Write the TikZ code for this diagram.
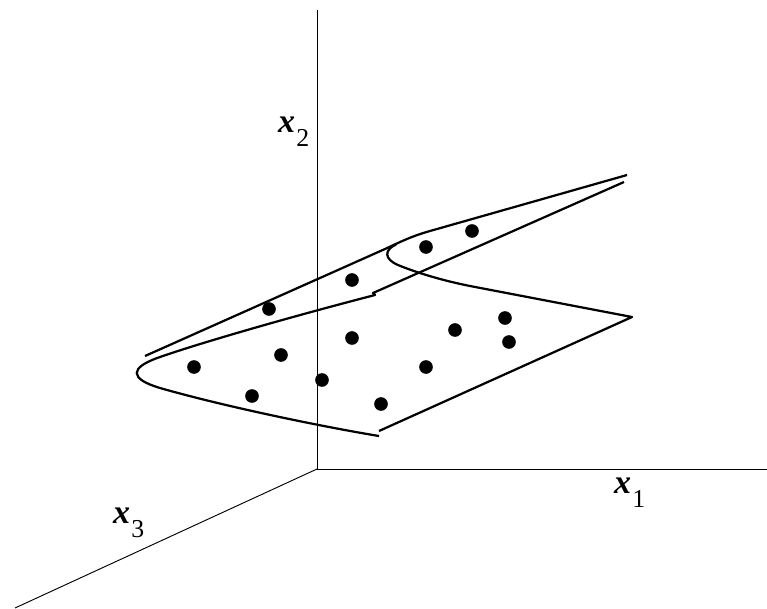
\documentclass[tikz,border=0pt]{standalone}
\usepackage{fontspec}
\setmainfont{Liberation Serif}
\usepackage{tikz}
\usetikzlibrary{positioning}
\newcommand{\axisname}[1]{{\fontsize{29}{29}\selectfont\bfseries\itshape x}\kern1pt\raisebox{-12pt}{\fontsize{22}{22}\selectfont #1}}

\begin{document}
\begin{tikzpicture}[x=0.03cm, y=-0.03cm]
  \tikzset{
    axis/.style={
      draw,
      line width=0.8pt
    },
    sheet/.style={
      draw,
      line width=1.9pt,
      line join=round
    },
    datapoint/.style={
      circle,
      fill=black,
      inner sep=0pt,
      minimum size=0.41cm
    },
    axislabel/.style={
      anchor=base west,
      inner sep=0pt
    }
  }
  \useasboundingbox (0,0) rectangle (767,608);

  % Axes
  \coordinate (origin) at (317,469);
  \coordinate (x1end) at (767,469);
  \coordinate (x2end) at (317,10);
  \coordinate (x3end) at (15,608);
  \draw[axis] (origin) -- (x1end);
  \draw[axis] (origin) -- (x2end);
  \draw[axis] (origin) -- (x3end);

  % Axis labels
  \node[axislabel] at (614,493) (labelx1) {\axisname{1}};
  \node[axislabel] at (278,132) (labelx2) {\axisname{2}};
  \node[axislabel] at (113,523) (labelx3) {\axisname{3}};

  % Folded sheet
  \draw[sheet] (145,356) -- (385,249)
    .. controls (400,242) and (412,236) .. (430,231) -- (627,175);
  \draw[sheet] (396,244.5)
    .. controls (384,250) and (384,259) .. (398,265)
    .. controls (415,272) and (440,280) .. (470,286)
    -- (632,317) -- (379,431);
  \draw[sheet] (379,436)
    .. controls (330,428) and (230,408) .. (160,388)
    .. controls (130,379) and (128,368) .. (160,357)
    .. controls (200,343) and (290,317) .. (375,295)
    -- (373,293) -- (624,182);

  % Data points
  \node[datapoint] at (269,309) (p1) {};
  \node[datapoint] at (352,280) (p2) {};
  \node[datapoint] at (426,247) (p3) {};
  \node[datapoint] at (472,231) (p4) {};
  \node[datapoint] at (194,367) (p5) {};
  \node[datapoint] at (281,355) (p6) {};
  \node[datapoint] at (352,338) (p7) {};
  \node[datapoint] at (455,330) (p8) {};
  \node[datapoint] at (505,318) (p9) {};
  \node[datapoint] at (509,342) (p10) {};
  \node[datapoint] at (426,367) (p11) {};
  \node[datapoint] at (322,380) (p12) {};
  \node[datapoint] at (252,396) (p13) {};
  \node[datapoint] at (381,404) (p14) {};

\end{tikzpicture}
\end{document}
